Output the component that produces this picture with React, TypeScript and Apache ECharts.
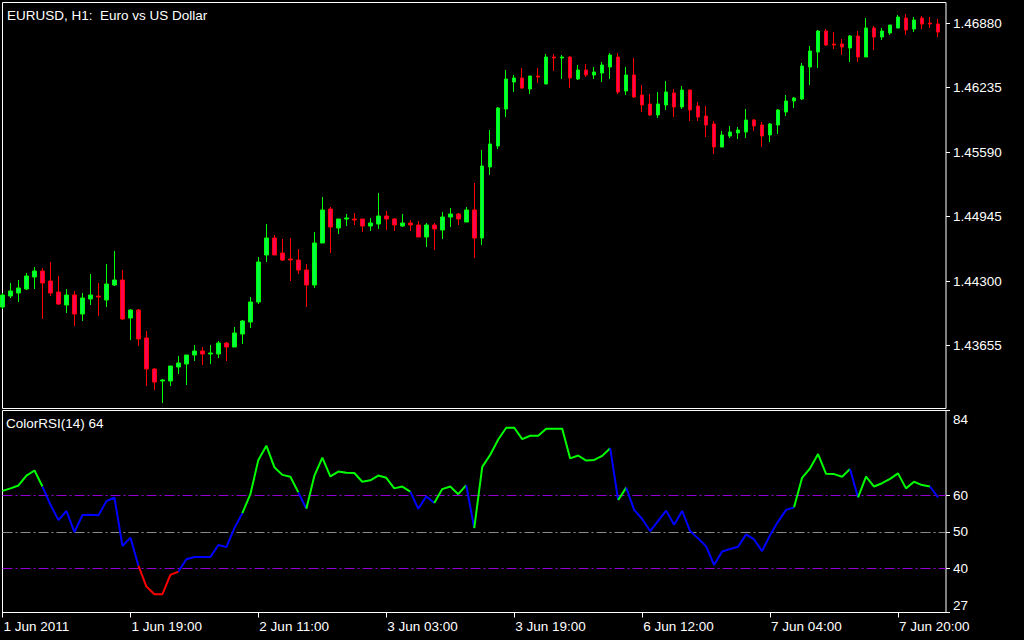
import React, { useEffect, useRef } from 'react';
import * as echarts from 'echarts';

const FONT = '"Liberation Sans", Arial, sans-serif';

// Hourly EURUSD candles, index 0 = 1 Jun 2011 03:00
const opens = [
  1.4404, 1.4415, 1.4418, 1.4422, 1.4434, 1.4440, 1.4430, 1.4419, 1.4406, 1.4416,
  1.4397, 1.4412, 1.4415, 1.4411, 1.4426, 1.4431, 1.4393, 1.4401, 1.4373, 1.4342,
  1.4330, 1.4330, 1.4344, 1.4347, 1.4356, 1.4360, 1.4357, 1.4357, 1.4368, 1.4364,
  1.4377, 1.4389, 1.4409, 1.4456, 1.4473, 1.4458, 1.4452, 1.4451, 1.4441, 1.4426,
  1.4468, 1.4502, 1.4483, 1.4492, 1.4492, 1.4492, 1.4485, 1.4487, 1.4495, 1.4492,
  1.4485, 1.4488, 1.4486, 1.4474, 1.4486, 1.4481, 1.4494, 1.4497, 1.4489, 1.4501,
  1.4473, 1.4544, 1.4565, 1.4602, 1.4629, 1.4633, 1.4622, 1.4635, 1.4627, 1.4654,
  1.4653, 1.4654, 1.4632, 1.4641, 1.4636, 1.4638, 1.4644, 1.4654, 1.4620, 1.4636,
  1.4616, 1.4607, 1.4596, 1.4606, 1.4618, 1.4604, 1.4621, 1.4605, 1.4595, 1.4587,
  1.4564, 1.4575, 1.4578, 1.4579, 1.4591, 1.4586, 1.4576, 1.4586, 1.4599, 1.4610,
  1.4612, 1.4644, 1.4659, 1.4680, 1.4667, 1.4667, 1.4663, 1.4675, 1.4654, 1.4683,
  1.4674, 1.4678, 1.4683, 1.4693, 1.4682, 1.4693, 1.4688, 1.4687,
];
const highs = [
  1.4418, 1.4428, 1.4431, 1.4438, 1.4444, 1.4443, 1.4449, 1.4435, 1.4422, 1.4420,
  1.4418, 1.4437, 1.4428, 1.4447, 1.4460, 1.4441, 1.4402, 1.4402, 1.4380, 1.4343,
  1.4332, 1.4345, 1.4355, 1.4356, 1.4366, 1.4364, 1.4366, 1.4370, 1.4369, 1.4384,
  1.4391, 1.4414, 1.4454, 1.4487, 1.4476, 1.4472, 1.4473, 1.4462, 1.4447, 1.4479,
  1.4514, 1.4504, 1.4492, 1.4497, 1.4498, 1.4492, 1.4493, 1.4518, 1.4500, 1.4493,
  1.4497, 1.4491, 1.4490, 1.4488, 1.4488, 1.4499, 1.4503, 1.4498, 1.4504, 1.4528,
  1.4561, 1.4581, 1.4604, 1.4641, 1.4636, 1.4643, 1.4635, 1.4643, 1.4657, 1.4657,
  1.4656, 1.4655, 1.4646, 1.4647, 1.4644, 1.4649, 1.4658, 1.4658, 1.4644, 1.4653,
  1.4626, 1.4617, 1.4619, 1.4630, 1.4622, 1.4625, 1.4621, 1.4609, 1.4605, 1.4590,
  1.4580, 1.4585, 1.4584, 1.4602, 1.4592, 1.4589, 1.4588, 1.4602, 1.4616, 1.4614,
  1.4648, 1.4665, 1.4681, 1.4682, 1.4679, 1.4672, 1.4676, 1.4680, 1.4693, 1.4685,
  1.4683, 1.4686, 1.4696, 1.4697, 1.4694, 1.4695, 1.4694, 1.4692,
];
const lows = [
  1.4402, 1.4413, 1.4409, 1.4421, 1.4422, 1.4392, 1.4415, 1.4406, 1.4398, 1.4385,
  1.4390, 1.4406, 1.4395, 1.4404, 1.4425, 1.4391, 1.4371, 1.4365, 1.4325, 1.4321,
  1.4308, 1.4325, 1.4337, 1.4326, 1.4350, 1.4346, 1.4347, 1.4353, 1.4350, 1.4364,
  1.4367, 1.4383, 1.4407, 1.4449, 1.4456, 1.4450, 1.4430, 1.4437, 1.4404, 1.4423,
  1.4468, 1.4458, 1.4477, 1.4485, 1.4486, 1.4479, 1.4480, 1.4482, 1.4481, 1.4480,
  1.4484, 1.4480, 1.4474, 1.4464, 1.4461, 1.4472, 1.4484, 1.4486, 1.4489, 1.4453,
  1.4466, 1.4536, 1.4562, 1.4594, 1.4619, 1.4622, 1.4617, 1.4628, 1.4627, 1.4640,
  1.4632, 1.4623, 1.4631, 1.4634, 1.4632, 1.4629, 1.4632, 1.4617, 1.4616, 1.4613,
  1.4599, 1.4595, 1.4593, 1.4601, 1.4594, 1.4602, 1.4590, 1.4590, 1.4574, 1.4557,
  1.4564, 1.4573, 1.4572, 1.4573, 1.4580, 1.4564, 1.4569, 1.4577, 1.4595, 1.4603,
  1.4611, 1.4626, 1.4643, 1.4665, 1.4662, 1.4656, 1.4649, 1.4649, 1.4654, 1.4661,
  1.4671, 1.4676, 1.4683, 1.4676, 1.4679, 1.4682, 1.4683, 1.4674,
];
const closes = [
  1.4416, 1.4420, 1.4423, 1.4435, 1.4440, 1.4428, 1.4418, 1.4407, 1.4416, 1.4397,
  1.4413, 1.4416, 1.4414, 1.4427, 1.4431, 1.4392, 1.4401, 1.4372, 1.4342, 1.4329,
  1.4331, 1.4345, 1.4348, 1.4356, 1.4360, 1.4357, 1.4358, 1.4368, 1.4364, 1.4378,
  1.4390, 1.4409, 1.4449, 1.4473, 1.4456, 1.4451, 1.4451, 1.4441, 1.4426, 1.4468,
  1.4501, 1.4484, 1.4492, 1.4493, 1.4491, 1.4485, 1.4488, 1.4495, 1.4492, 1.4486,
  1.4488, 1.4486, 1.4474, 1.4486, 1.4482, 1.4494, 1.4497, 1.4492, 1.4501, 1.4473,
  1.4545, 1.4567, 1.4603, 1.4632, 1.4633, 1.4623, 1.4635, 1.4634, 1.4654, 1.4653,
  1.4654, 1.4633, 1.4641, 1.4636, 1.4639, 1.4646, 1.4656, 1.4619, 1.4636, 1.4614,
  1.4606, 1.4596, 1.4607, 1.4619, 1.4604, 1.4621, 1.4601, 1.4594, 1.4586, 1.4564,
  1.4576, 1.4579, 1.4581, 1.4591, 1.4585, 1.4575, 1.4587, 1.4601, 1.4610, 1.4613,
  1.4645, 1.4660, 1.4680, 1.4666, 1.4666, 1.4664, 1.4675, 1.4654, 1.4683, 1.4674,
  1.4680, 1.4686, 1.4694, 1.4681, 1.4691, 1.4687, 1.4687, 1.4679,
];

// ColorRSI(14) values, one per candle
const rsiValues = [
  61.2, 61.9, 62.7, 65.4, 66.8, 62.4, 57.4, 53.2, 55.7, 49.9,
  54.6, 54.7, 54.5, 58.4, 59.4, 46.1, 48.4, 40.7, 35.0, 32.9,
  32.9, 38.2, 39.1, 42.5, 43.1, 43.1, 43.1, 46.4, 45.8, 51.0,
  55.1, 60.3, 69.7, 73.6, 67.7, 65.6, 65.1, 60.8, 56.3, 65.3,
  70.3, 65.2, 66.5, 66.2, 66.1, 63.7, 64.1, 65.4, 64.8, 61.9,
  62.4, 61.0, 56.3, 59.7, 57.9, 61.7, 62.4, 60.3, 62.8, 51.0,
  67.8, 71.1, 75.3, 78.5, 78.5, 75.4, 76.3, 76.3, 78.2, 78.2,
  78.2, 70.1, 70.9, 69.5, 69.7, 70.8, 72.9, 58.7, 62.1, 56.0,
  53.5, 50.2, 53.0, 55.8, 51.9, 55.7, 50.2, 48.2, 46.0, 40.9,
  44.6, 45.3, 45.9, 49.3, 47.9, 44.7, 49.1, 52.8, 56.0, 56.7,
  64.8, 67.4, 71.3, 65.9, 65.8, 65.1, 67.2, 59.4, 65.1, 62.4,
  63.3, 64.5, 66.0, 61.9, 63.7, 62.8, 62.4, 59.4,
];

const timeTickLabels = [
  '1 Jun 2011', '1 Jun 19:00', '2 Jun 11:00', '3 Jun 03:00',
  '3 Jun 19:00', '6 Jun 12:00', '7 Jun 04:00', '7 Jun 20:00',
];
const TICK_EVERY = 16;

const priceTicks = [1.4688, 1.46235, 1.4559, 1.44945, 1.443, 1.43655];
const priceMin = 1.43025;
const priceMax = 1.47085;

const rsiLevels = [60, 50, 40];
const rsiLevelColors = ['#9400d3', '#8c8c8c', '#9400d3'];
const rsiMin = 27.89;
const rsiMax = 83.23;
const rsiTopLabel = '84';
const rsiBottomLabel = '27';

const UP = 60;
const DOWN = 40;
const GREEN = '#00ff00';
const BLUE = '#0000ff';
const RED = '#ff0000';

export default function App() {
  const ref = useRef<HTMLDivElement>(null);

  useEffect(() => {
    document.body.style.margin = '0';
    const chart = echarts.init(ref.current as HTMLDivElement, null, { renderer: 'svg' });

    const n = opens.length;
    const categories = Array.from({ length: n + 1 }, (_, i) => String(i));
    const candleData = opens.map((o, i) => [o, closes[i], lows[i], highs[i]]);

    const colorOf = (v: number) => (v > UP ? GREEN : v < DOWN ? RED : BLUE);

    // split RSI into runs of same-coloured segments (segment i-1 -> i coloured by value i)
    const runs: { color: string; from: number; to: number }[] = [];
    for (let i = 1; i < rsiValues.length; i++) {
      const c = colorOf(rsiValues[i]);
      const last = runs[runs.length - 1];
      if (last && last.color === c && last.to === i - 1) last.to = i;
      else runs.push({ color: c, from: i - 1, to: i });
    }
    const rsiSeries = runs.map((r) => ({
      type: 'line',
      xAxisIndex: 1,
      yAxisIndex: 1,
      showSymbol: false,
      symbol: 'none',
      silent: true,
      z: 5,
      lineStyle: { color: r.color, width: 2 },
      data: rsiValues.map((v, i) => (i >= r.from && i <= r.to ? v : null)),
      connectNulls: false,
    }));

    const levelSeries = rsiLevels.map((lv, k) => ({
      type: 'line',
      xAxisIndex: 1,
      yAxisIndex: 1,
      data: [],
      showSymbol: false,
      silent: true,
      z: 1,
      markLine: {
        silent: true,
        symbol: 'none',
        label: { show: false },
        lineStyle: { color: rsiLevelColors[k], width: 1, type: [10, 3, 2, 3], opacity: 1 },
        data: [{ yAxis: lv }],
      },
    }));

    const tickInterval = (index: number) => index % TICK_EVERY === 0;

    const option: any = {
      animation: false,
      backgroundColor: '#000000',
      textStyle: { fontFamily: FONT },
      grid: [
        {
          left: 2.5, top: 2.5, width: 943.5, height: 406,
          show: true, borderColor: '#ffffff', borderWidth: 1, backgroundColor: 'transparent',
          outerBoundsMode: 'none',
        },
        {
          left: 2.5, top: 410.5, width: 943.5, height: 202,
          show: true, borderColor: '#ffffff', borderWidth: 1, backgroundColor: 'transparent',
          outerBoundsMode: 'none',
        },
      ],
      xAxis: [
        {
          type: 'category', gridIndex: 0, data: categories, boundaryGap: false,
          axisLine: { show: false }, axisTick: { show: false }, axisLabel: { show: false },
          splitLine: { show: false },
        },
        {
          type: 'category', gridIndex: 1, data: categories, boundaryGap: false,
          axisLine: { show: true, lineStyle: { color: '#ffffff', width: 1 } },
          axisTick: { show: true, interval: tickInterval, length: 5, lineStyle: { color: '#ffffff' } },
          axisLabel: {
            show: true, interval: tickInterval, align: 'left', margin: 7,
            color: '#ffffff', fontFamily: FONT, fontSize: 13.5,
            hideOverlap: false,
            padding: [0, 0, 0, 1],
            formatter: (_v: string, idx: number) =>
              idx % TICK_EVERY === 0 ? timeTickLabels[idx / TICK_EVERY] ?? '' : '',
          },
          splitLine: { show: false },
        },
      ],
      yAxis: [
        {
          type: 'value', gridIndex: 0, position: 'right', min: priceMin, max: priceMax,
          axisLine: { show: false },
          axisTick: { show: true, length: 4, customValues: priceTicks, lineStyle: { color: '#ffffff' } },
          axisLabel: {
            show: true, customValues: priceTicks, margin: 7, color: '#ffffff',
            fontFamily: FONT, fontSize: 13.5,
            formatter: (v: number) => v.toFixed(5),
          },
          splitLine: { show: false },
        },
        {
          type: 'value', gridIndex: 1, position: 'right', min: rsiMin, max: rsiMax,
          axisLine: { show: false },
          axisTick: {
            show: true, length: 4, customValues: [rsiMax, ...rsiLevels, rsiMin],
            lineStyle: { color: '#ffffff' },
          },
          axisLabel: {
            show: true, customValues: rsiLevels, margin: 7, color: '#ffffff',
            fontFamily: FONT, fontSize: 13.5,
            formatter: (v: number) => String(Math.round(v)),
          },
          splitLine: { show: false },
        },
      ],
      graphic: [
        {
          type: 'text', left: 7, top: 8,
          style: { text: 'EURUSD, H1:  Euro vs US Dollar', fill: '#ffffff', font: `13.5px ${FONT}` },
        },
        {
          type: 'text', left: 6, top: 416,
          style: { text: 'ColorRSI(14) 64', fill: '#ffffff', font: `13.5px ${FONT}` },
        },
        {
          type: 'text', left: 953, top: 412,
          style: { text: rsiTopLabel, fill: '#ffffff', font: `13.5px ${FONT}` },
        },
        {
          type: 'text', left: 953, top: 598,
          style: { text: rsiBottomLabel, fill: '#ffffff', font: `13.5px ${FONT}` },
        },
      ],
      series: [
        {
          type: 'candlestick',
          xAxisIndex: 0,
          yAxisIndex: 0,
          barWidth: 4,
          data: candleData,
          itemStyle: {
            color: '#00ff40',
            color0: '#ff0050',
            borderColor: '#00ff00',
            borderColor0: '#ff0000',
            borderWidth: 1,
          },
        },
        ...levelSeries,
        ...rsiSeries,
      ],
    };

    chart.setOption(option);
    return () => chart.dispose();
  }, []);

  return (
    <div
      ref={ref}
      style={{ position: 'fixed', left: 0, top: 0, width: 1024, height: 640, background: '#000' }}
    />
  );
}
